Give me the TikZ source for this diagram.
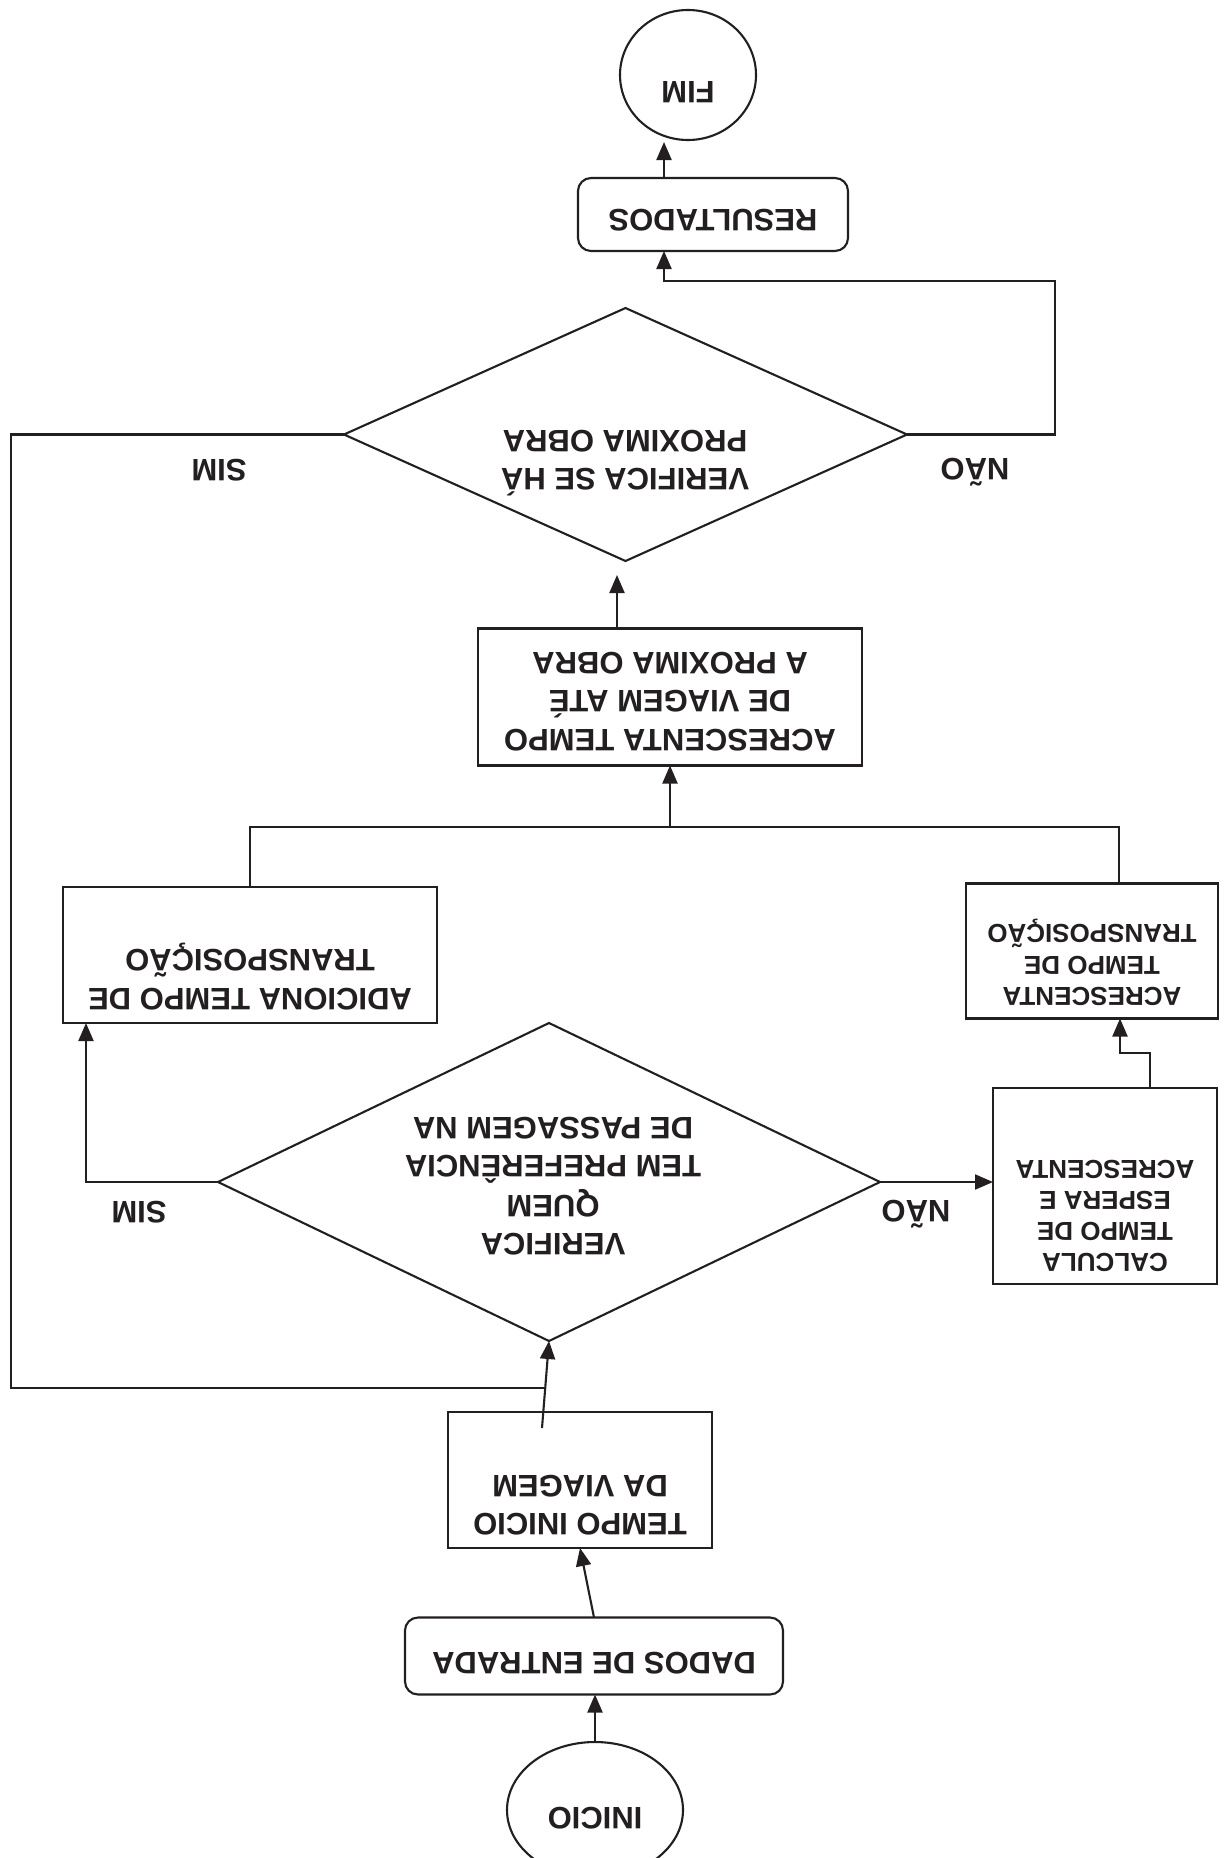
\documentclass[tikz,border=0pt]{standalone}
\usepackage{fontspec}
\setmainfont{Liberation Sans}
\usepackage{graphicx}
\usetikzlibrary{shapes.geometric,arrows.meta}
\newcommand{\flipt}[1]{\rotatebox[origin=c]{180}{\begin{tabular}{@{}c@{}}#1\end{tabular}}}
\definecolor{ink}{HTML}{231F20}
\begin{document}
\begin{tikzpicture}[x=1pt,y=-1pt,
  line width=2.1pt,
  every node/.style={inner sep=0pt, outer sep=0pt},
  box/.style={draw=ink, line width=2.1pt, rectangle},
  rbox/.style={box, rounded corners=13pt},
  ell/.style={draw=ink, line width=2.1pt, ellipse},
  dia/.style={draw=ink, line width=2.1pt, diamond},
  txt/.style={font=\fontsize{31}{38}\selectfont\bfseries, text=ink},
  stxt/.style={font=\fontsize{26}{31}\selectfont\bfseries, text=ink},
  conn/.style={draw=ink, line width=2.1pt},
  arr/.style={conn, -{Triangle[length=18pt,width=15pt]}},
]
\fill[white] (0,0) rectangle (1224,1858);
\useasboundingbox (0,0) rectangle (1224,1858);

% nodes
\node[ell, minimum width=136pt, minimum height=130pt] (fim) at (688,75) {};
\node[txt] (fimT) at (688,89) {\flipt{FIM}};
\node[rbox, minimum width=270pt, minimum height=73pt] (res) at (713,214.5) {};
\node[txt] (resT) at (713,217) {\flipt{RESULTADOS}};
\node[dia, minimum width=563pt, minimum height=253pt] (d1) at (625.5,434.5) {};
\node[txt] (d1T) at (625,458) {\flipt{VERIFICA SE HÁ\\PROXIMA OBRA}};
\node[txt] (sim1) at (219,467) {\flipt{SIM}};
\node[txt] (nao1) at (975,467) {\flipt{NÃO}};
\node[box, minimum width=384pt, minimum height=137pt] (acr) at (670,697) {};
\node[txt] (acrT) at (670,699) {\flipt{ACRESCENTA TEMPO\\DE VIAGEM ATÉ\\A PROXIMA OBRA}};
\node[box, minimum width=374pt, minimum height=136pt] (lbox) at (250,955) {};
\node[txt] (lboxT) at (250,977) {\flipt{ADICIONA TEMPO DE\\TRANSPOSIÇÃO}};
\node[box, minimum width=252pt, minimum height=135pt] (rbox) at (1092,951) {};
\node[stxt] (rboxT) at (1092,962) {\flipt{ACRESCENTA\\TEMPO DE\\TRANSPOSIÇÃO}};
\node[box, minimum width=224pt, minimum height=196pt] (calc) at (1105,1186) {};
\node[stxt] (calcT) at (1105,1213) {\flipt{CALCULA\\TEMPO DE\\ESPERA E\\ACRESCENTA}};
\node[dia, minimum width=662pt, minimum height=318pt] (d2) at (549,1182) {};
\node[txt] (d2T) at (553,1183) {\flipt{VERIFICA\\QUEM\\TEM PREFERÊNCIA\\DE PASSAGEM NA}};
\node[txt] (sim2) at (139,1209) {\flipt{SIM}};
\node[txt] (nao2) at (916,1209) {\flipt{NÃO}};
\node[box, minimum width=264pt, minimum height=136pt] (tempo) at (580,1480) {};
\node[txt] (tempoT) at (580,1502) {\flipt{TEMPO INICIO\\DA VIAGEM}};
\node[rbox, minimum width=378pt, minimum height=77pt] (dados) at (594,1656) {};
\node[txt] (dadosT) at (594,1660) {\flipt{DADOS DE ENTRADA}};
\node[ell, minimum width=176pt, minimum height=136pt] (inicio) at (595,1810) {};
\node[txt] (inicioT) at (595,1815) {\flipt{INICIO}};

% helper coordinates
\coordinate (loopC) at (11,1388);
\coordinate (j1) at (545,1388);
\coordinate (jn) at (670,827);
\coordinate (jog) at (1120,1053);
\coordinate (rt) at (1055,281);

% connectors
\draw[arr] (inicio.north) -- (inicio.north |- dados.south);
\draw[arr] (dados.north) -- (tempo.south);
\draw[arr] ([xshift=-38pt,yshift=-16pt]tempo.north) -- (d2.south);
\draw[conn] (d1.west) -| (loopC) -- (j1);
\draw[arr] (d2.west) -| ([xshift=-164pt]lbox.south);
\draw[arr] (d2.east) -- (d2.east -| calc.west);
\draw[arr] ([xshift=45pt]calc.north) |- (jog) -- (jog |- rbox.south);
\draw[conn] (lbox.north) |- (jn) -| ([xshift=27pt]rbox.north);
\draw[arr] (jn) -- (acr.south);
\draw[arr, shorten >=14pt] ([xshift=-53pt]acr.north) -- ([xshift=-53pt]acr.north |- d1.south);
\draw[arr] (d1.east) -| (rt) -| ([xshift=-49pt]res.south);
\draw[arr, shorten >=2pt] ([xshift=-49pt]res.north) -- ([xshift=-49pt]res.north |- fim.south);
\end{tikzpicture}
\end{document}
